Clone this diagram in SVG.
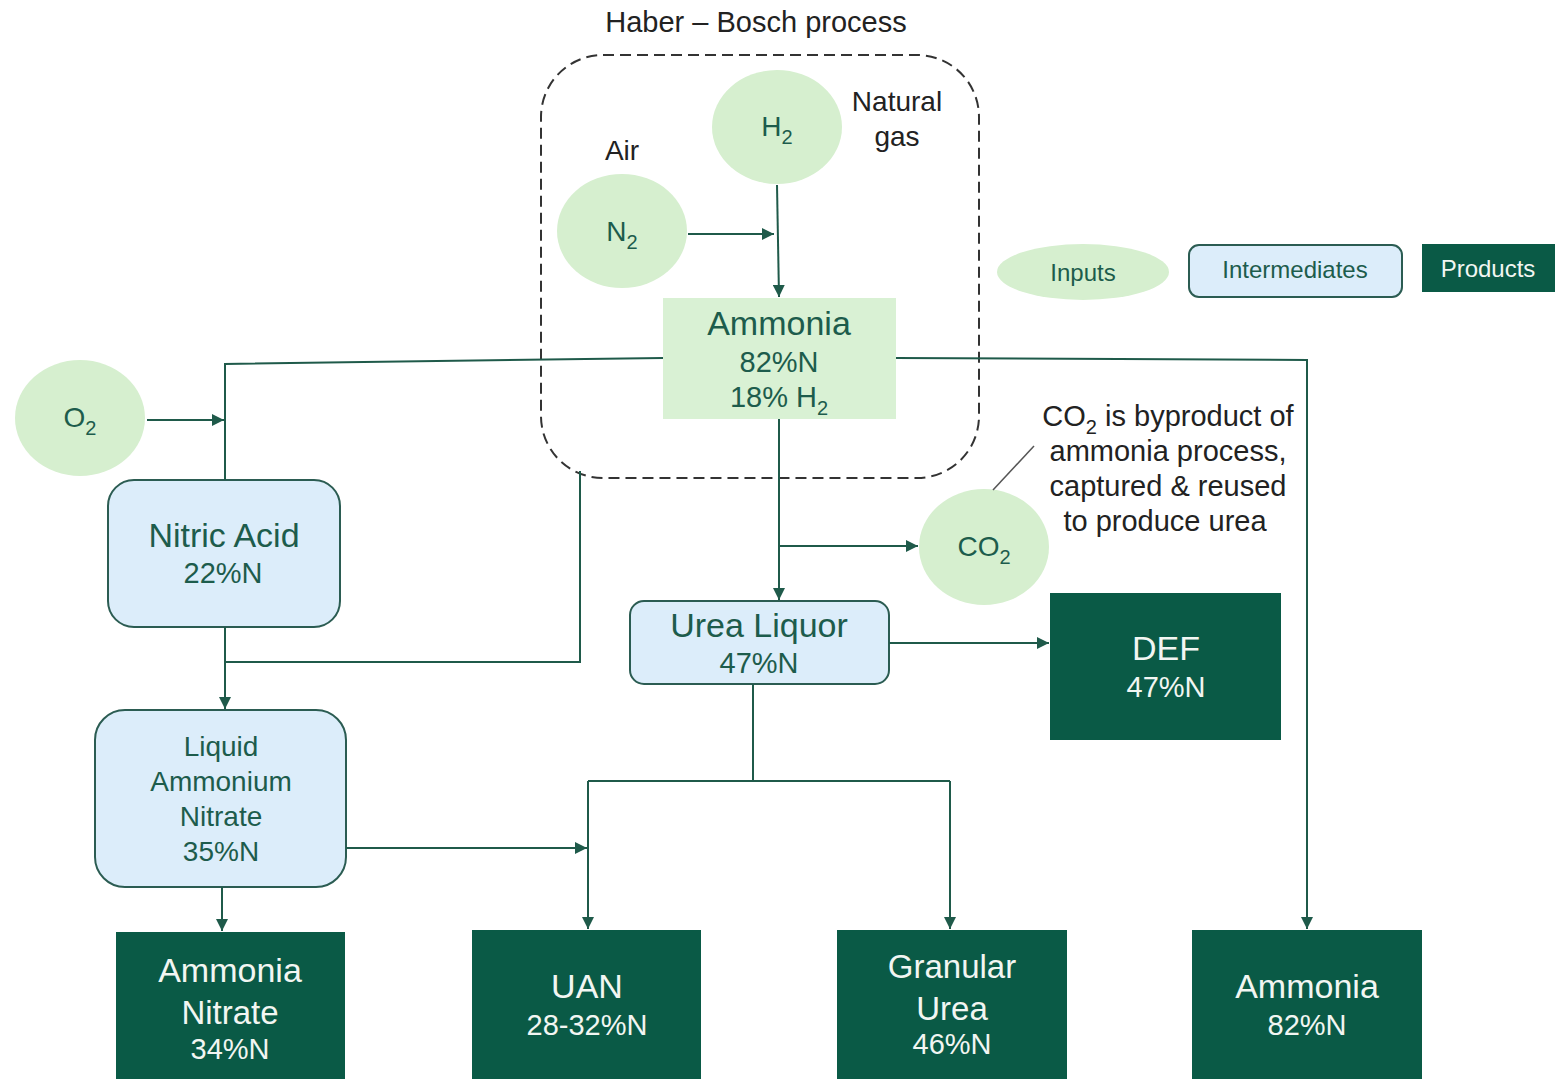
<svg xmlns="http://www.w3.org/2000/svg" width="1555" height="1079" viewBox="0 0 1555 1079">
<defs>
<marker id="arr" markerUnits="userSpaceOnUse" markerWidth="13" markerHeight="12" refX="12" refY="6" orient="auto">
<path d="M0,0 L12,6 L0,12 z" fill="#1f5a4a"/>
</marker>
<style>
text{font-family:"Liberation Sans",Arial,sans-serif;text-anchor:middle}
.in{fill:#d6efcf}
.mid{fill:#dcedfa;stroke:#2b5c52;stroke-width:2}
.prod{fill:#0a5a46}
.tg{fill:#1d5c4c}
.tw{fill:#f2f6f2}
.tb{fill:#222}
.ln{fill:none;stroke:#1f5a4a;stroke-width:2}
</style>
</defs>
<rect width="1555" height="1079" fill="#fff"/>

<g id="haber-bosch">
<rect x="541" y="55" width="438" height="423" rx="62" fill="none" stroke="#333" stroke-width="2" stroke-dasharray="11,6"/>
<text class="tb" x="756" y="32" font-size="29">Haber – Bosch process</text>
</g>

<g id="h2">
<ellipse class="in" cx="777" cy="127" rx="65" ry="57"/>
<text class="tg" x="777" y="136" font-size="28">H<tspan font-size="20" dy="8">2</tspan></text>
<text class="tb" x="897" y="111" font-size="28">Natural</text>
<text class="tb" x="897" y="146" font-size="28">gas</text>
</g>

<g id="n2">
<ellipse class="in" cx="622" cy="231" rx="65" ry="57"/>
<text class="tg" x="622" y="241" font-size="28">N<tspan font-size="20" dy="8">2</tspan></text>
<text class="tb" x="622" y="160" font-size="28">Air</text>
</g>

<g id="o2">
<ellipse class="in" cx="80" cy="418" rx="65" ry="58"/>
<text class="tg" x="80" y="427" font-size="28">O<tspan font-size="20" dy="8">2</tspan></text>
</g>

<g id="ammonia">
<rect x="663" y="298" width="233" height="121" fill="#d9f1d4"/>
<text class="tg" x="779" y="335" font-size="34">Ammonia</text>
<text class="tg" x="779" y="372" font-size="29">82%N</text>
<text class="tg" x="779" y="407" font-size="29">18% H<tspan font-size="20" dy="8">2</tspan></text>
</g>

<g id="co2">
<ellipse class="in" cx="984" cy="547" rx="65" ry="58"/>
<text class="tg" x="984" y="556" font-size="28">CO<tspan font-size="20" dy="8">2</tspan></text>
</g>

<g id="co2-note">
<line x1="993" y1="490" x2="1034" y2="446" stroke="#555" stroke-width="1.5"/>
<text class="tb" x="1168" y="426" font-size="29">CO<tspan font-size="20" dy="8">2</tspan><tspan dy="-8"> is byproduct of</tspan></text>
<text class="tb" x="1168" y="461" font-size="29">ammonia process,</text>
<text class="tb" x="1168" y="496" font-size="29">captured &amp; reused</text>
<text class="tb" x="1165" y="531" font-size="29">to produce urea</text>
</g>

<g id="legend">
<ellipse class="in" cx="1083" cy="272" rx="86" ry="28"/>
<text class="tg" x="1083" y="281" font-size="24">Inputs</text>
<rect class="mid" x="1189" y="245" width="213" height="52" rx="10"/>
<text class="tg" x="1295" y="278" font-size="24">Intermediates</text>
<rect class="prod" x="1422" y="244" width="133" height="48"/>
<text class="tw" x="1488" y="277" font-size="24">Products</text>
</g>

<g id="nitric-acid">
<rect class="mid" x="108" y="480" width="232" height="147" rx="26"/>
<text class="tg" x="224" y="547" font-size="34">Nitric Acid</text>
<text class="tg" x="223" y="583" font-size="29">22%N</text>
</g>

<g id="urea-liquor">
<rect class="mid" x="630" y="601" width="259" height="83" rx="14"/>
<text class="tg" x="759" y="637" font-size="34">Urea Liquor</text>
<text class="tg" x="759" y="673" font-size="29">47%N</text>
</g>

<g id="def">
<rect class="prod" x="1050" y="593" width="231" height="147"/>
<text class="tw" x="1166" y="660" font-size="34">DEF</text>
<text class="tw" x="1166" y="697" font-size="29">47%N</text>
</g>

<g id="lan">
<rect class="mid" x="95" y="710" width="251" height="177" rx="30"/>
<text class="tg" x="221" y="756" font-size="28">Liquid</text>
<text class="tg" x="221" y="791" font-size="28">Ammonium</text>
<text class="tg" x="221" y="826" font-size="28">Nitrate</text>
<text class="tg" x="221" y="861" font-size="28">35%N</text>
</g>

<g id="ammonia-nitrate">
<rect class="prod" x="116" y="932" width="229" height="147"/>
<text class="tw" x="230" y="982" font-size="34">Ammonia</text>
<text class="tw" x="230" y="1024" font-size="33">Nitrate</text>
<text class="tw" x="230" y="1059" font-size="29">34%N</text>
</g>

<g id="uan">
<rect class="prod" x="472" y="930" width="229" height="149"/>
<text class="tw" x="587" y="998" font-size="34">UAN</text>
<text class="tw" x="587" y="1035" font-size="29">28-32%N</text>
</g>

<g id="granular-urea">
<rect class="prod" x="837" y="930" width="230" height="149"/>
<text class="tw" x="952" y="978" font-size="33">Granular</text>
<text class="tw" x="952" y="1020" font-size="33">Urea</text>
<text class="tw" x="952" y="1054" font-size="29">46%N</text>
</g>

<g id="ammonia-product">
<rect class="prod" x="1192" y="930" width="230" height="149"/>
<text class="tw" x="1307" y="998" font-size="34">Ammonia</text>
<text class="tw" x="1307" y="1035" font-size="29">82%N</text>
</g>

<g id="connectors">
<path class="ln" d="M688,234 H774" marker-end="url(#arr)"/>
<path class="ln" d="M777,185 L779,297" marker-end="url(#arr)"/>
<path class="ln" d="M663,358 L225,364 V480"/>
<path class="ln" d="M147,420 H224" marker-end="url(#arr)"/>
<path class="ln" d="M896,358 L1307,360 V929" marker-end="url(#arr)"/>
<path class="ln" d="M225,627 V709" marker-end="url(#arr)"/>
<path class="ln" d="M580,471 V662 H225"/>
<path class="ln" d="M779,419 V600" marker-end="url(#arr)"/>
<path class="ln" d="M779,546 H918" marker-end="url(#arr)"/>
<path class="ln" d="M889,643 H1049" marker-end="url(#arr)"/>
<path class="ln" d="M753,684 V781"/>
<path class="ln" d="M588,781 H950"/>
<path class="ln" d="M588,781 V929" marker-end="url(#arr)"/>
<path class="ln" d="M950,781 V929" marker-end="url(#arr)"/>
<path class="ln" d="M346,848 H587" marker-end="url(#arr)"/>
<path class="ln" d="M222,887 V931" marker-end="url(#arr)"/>
</g>
</svg>
